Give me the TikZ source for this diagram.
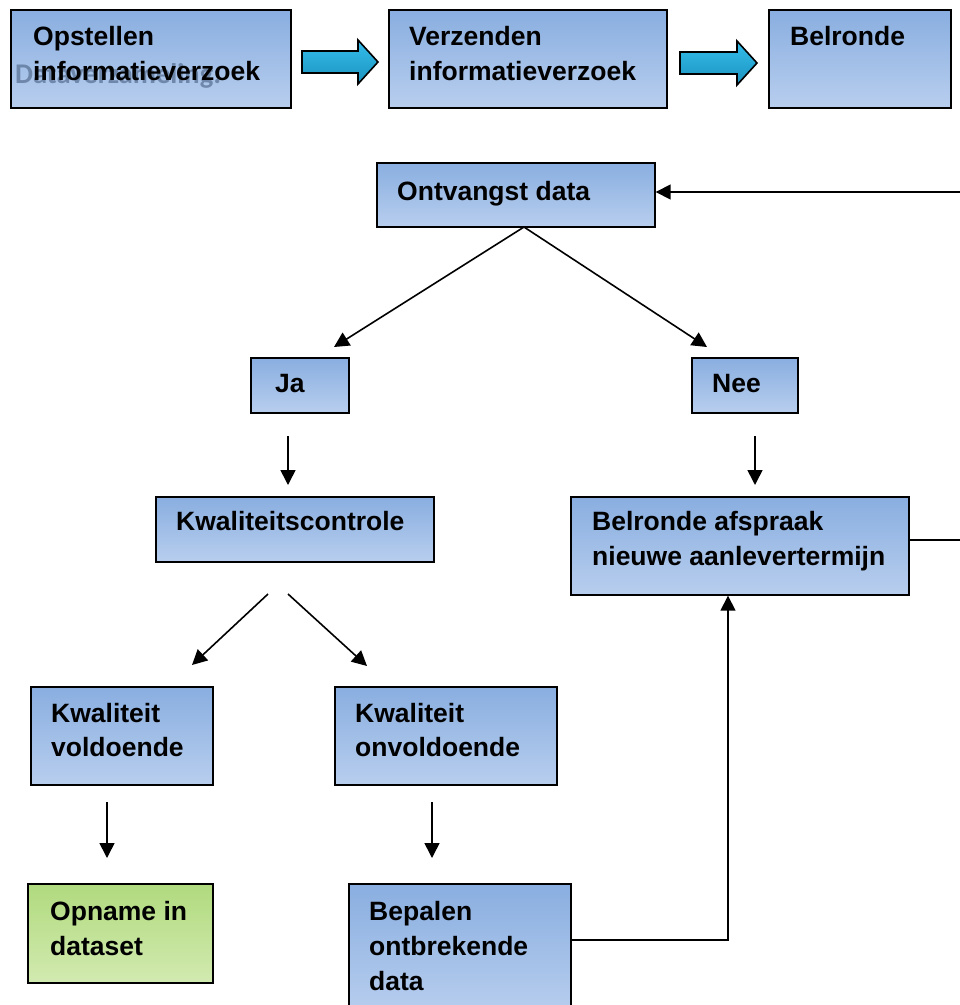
\documentclass[tikz,border=0pt]{standalone}
\usepackage{fontspec}
\setmainfont{Liberation Sans}
\newfontfamily\ghostfont{Carlito}
\usetikzlibrary{arrows.meta}
\definecolor{bluetop}{RGB}{137,174,224}
\definecolor{bluebot}{RGB}{184,206,238}
\definecolor{greentop}{RGB}{176,218,126}
\definecolor{greenbot}{RGB}{210,234,176}
\definecolor{arrtop}{RGB}{52,190,236}
\definecolor{arrbot}{RGB}{28,146,190}
\definecolor{ghost}{RGB}{90,115,150}
\tikzset{
  box/.style={draw=black, line width=1.7pt, top color=bluetop, bottom color=bluebot, anchor=north west, inner sep=0pt},
  gbox/.style={box, top color=greentop, bottom color=greenbot},
  txt/.style={anchor=base west, inner sep=0pt, font=\fontsize{26.5}{35}\selectfont\bfseries},
  arr/.style={line width=1.6pt, -{Triangle[length=15pt,width=15pt]}},
  ln/.style={line width=1.6pt},
  blockarrow/.style={draw=black, line width=1.6pt, top color=arrtop, bottom color=arrbot}
}
\begin{document}
\begin{tikzpicture}[x=1pt,y=1pt]
\useasboundingbox (0,0) rectangle (960,-1005);
% top row
\node[box, minimum width=280, minimum height=98] (opst) at (10,-9) {};
\node[anchor=base west, inner sep=0pt, text=ghost, opacity=0.75, font=\fontsize{28.5}{34}\selectfont\ghostfont\bfseries] (ghosttxt) at (15,-83) {Dataverzameling:};
\node[txt] (opstA) at (33,-45) {Opstellen};
\node[txt] (opstB) at (33,-80) {informatieverzoek};

\node[box, minimum width=278, minimum height=98] (verz) at (388,-9) {};
\node[txt] (verzA) at (409,-45) {Verzenden};
\node[txt] (verzB) at (409,-80) {informatieverzoek};

\node[box, minimum width=182, minimum height=98] (bel1) at (768,-9) {};
\node[txt] (bel1A) at (790,-45) {Belronde};

\path[blockarrow] (302,-51) -- (358,-51) -- (358,-40) -- (378,-62) -- (358,-84) -- (358,-73) -- (302,-73) -- cycle;
\path[blockarrow] (680,-52) -- (737,-52) -- (737,-41) -- (757,-63) -- (737,-85) -- (737,-74) -- (680,-74) -- cycle;

% Ontvangst
\node[box, minimum width=278, minimum height=64] (ontv) at (376,-162) {};
\node[txt] (ontvA) at (397,-200) {Ontvangst data};
\coordinate (inR) at (961,-192);
\draw[arr] (inR) -- (inR -| ontv.east);

\coordinate (apex) at (524,-227);
\coordinate (jaTip) at (334,-347);
\coordinate (neeTip) at (707,-347);
\draw[arr] (apex) -- (jaTip);
\draw[arr] (apex) -- (neeTip);

% Ja / Nee
\node[box, minimum width=98, minimum height=55] (ja) at (250,-357) {};
\node[txt] (jaA) at (275,-392) {Ja};
\node[box, minimum width=106, minimum height=55] (nee) at (691,-357) {};
\node[txt] (neeA) at (712,-392) {Nee};

\coordinate (jaD1) at (288,-436);
\coordinate (jaD2) at (288,-485);
\draw[arr] (jaD1) -- (jaD2);
\coordinate (neeD1) at (755,-436);
\coordinate (neeD2) at (755,-485);
\draw[arr] (neeD1) -- (neeD2);

% Kwaliteitscontrole / Belronde afspraak
\node[box, minimum width=278, minimum height=65] (kc) at (155,-496) {};
\node[txt] (kcA) at (176,-530) {Kwaliteitscontrole};
\node[box, minimum width=338, minimum height=98] (bel2) at (570,-496) {};
\node[txt] (bel2A) at (592,-530) {Belronde afspraak};
\node[txt] (bel2B) at (592,-565) {nieuwe aanlevertermijn};
\coordinate (outR) at (961,-540);
\draw[ln] (bel2.east |- outR) -- (outR);

\coordinate (kcL) at (268,-594);
\coordinate (kcLt) at (192,-665);
\coordinate (kcR) at (288,-594);
\coordinate (kcRt) at (367,-666);
\draw[arr] (kcL) -- (kcLt);
\draw[arr] (kcR) -- (kcRt);

% Kwaliteit boxes
\node[box, minimum width=182, minimum height=98] (kv) at (30,-686) {};
\node[txt] (kvA) at (51,-722) {Kwaliteit};
\node[txt] (kvB) at (51,-756) {voldoende};
\node[box, minimum width=222, minimum height=98] (ko) at (334,-686) {};
\node[txt] (koA) at (355,-722) {Kwaliteit};
\node[txt] (koB) at (355,-756) {onvoldoende};

\coordinate (kvD1) at (107,-802);
\coordinate (kvD2) at (107,-858);
\draw[arr] (kvD1) -- (kvD2);
\coordinate (koD1) at (432,-802);
\coordinate (koD2) at (432,-858);
\draw[arr] (koD1) -- (koD2);

% bottom row
\node[gbox, minimum width=185, minimum height=99] (opn) at (27,-883) {};
\node[txt] (opnA) at (50,-920) {Opname in};
\node[txt] (opnB) at (50,-955) {dataset};
\node[box, minimum width=222, minimum height=130] (bep) at (348,-883) {};
\node[txt] (bepA) at (369,-920) {Bepalen};
\node[txt] (bepB) at (369,-955) {ontbrekende};
\node[txt] (bepC) at (369,-990) {data};

\coordinate (corner) at (728,-940);
\draw[arr] (bep.east |- corner) -- (corner) -- (corner |- bel2.south);
\end{tikzpicture}
\end{document}
